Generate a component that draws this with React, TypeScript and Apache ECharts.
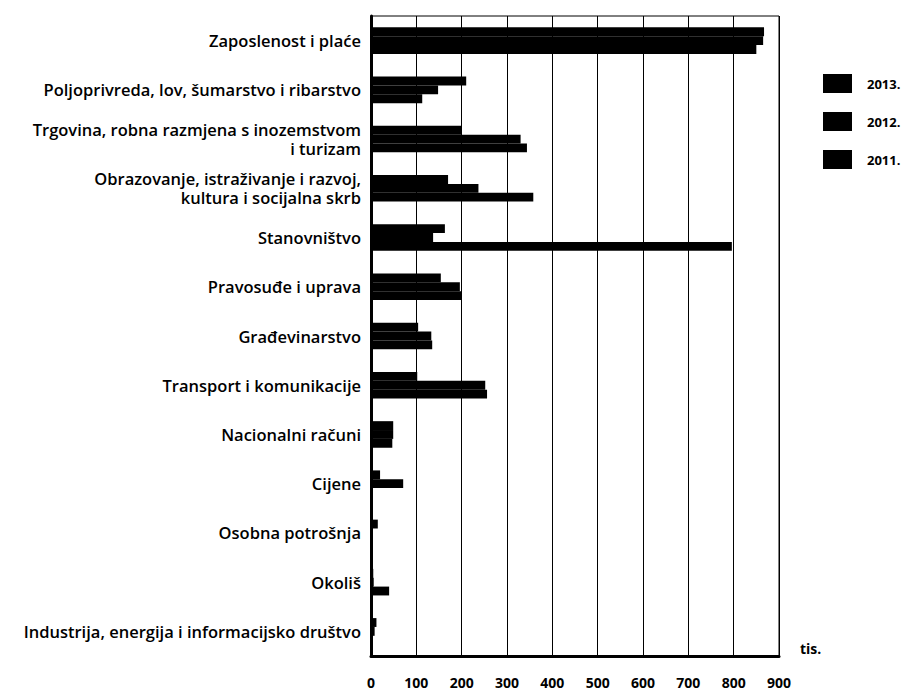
import React, { useEffect, useRef } from "react";
import * as echarts from "echarts";

const categories = [
  "Zaposlenost i plaće",
  "Poljoprivreda, lov, šumarstvo i ribarstvo",
  "Trgovina, robna razmjena s inozemstvom\ni turizam",
  "Obrazovanje, istraživanje i razvoj,\nkultura i socijalna skrb",
  "Stanovništvo",
  "Pravosuđe i uprava",
  "Građevinarstvo",
  "Transport i komunikacije",
  "Nacionalni računi",
  "Cijene",
  "Osobna potrošnja",
  "Okoliš",
  "Industrija, energija i informacijsko društvo",
];

const values2013 = [867, 210, 200, 170, 163, 154, 104, 102, 49, 20, 15, 5, 12];
const values2012 = [865, 148, 330, 237, 137, 196, 133, 252, 49, 71, 4, 6, 8];
const values2011 = [850, 113, 344, 358, 796, 199, 135, 256, 47, 0, 3, 40, 4];

const seriesNames = ["2013.", "2012.", "2011."];
const xTicks = [0, 100, 200, 300, 400, 500, 600, 700, 800, 900];
const unitLabel = "tis.";

export default function App() {
  const ref = useRef<HTMLDivElement>(null);
  useEffect(() => {
    if (!ref.current) return;
    const chart = echarts.init(ref.current, null, { renderer: "svg" });
    const font = "'Open Sans', sans-serif";
    const mk = (name: string, data: number[]) => ({
      name,
      type: "bar",
      data,
      barGap: "0%",
      barCategoryGap: "46%",
      itemStyle: { color: "#000" },
    });
    chart.setOption({
      animation: false,
      backgroundColor: "#fff",
      textStyle: { fontFamily: font },
      grid: {
        left: 371,
        right: 131,
        top: 16,
        bottom: 34,
        show: true,
        borderColor: "#000",
        borderWidth: 1,
      },
      legend: {
        orient: "vertical",
        left: 818,
        top: 69,
        itemWidth: 29,
        itemHeight: 19,
        itemGap: 19,
        icon: "rect",
        data: seriesNames,
        textStyle: {
          fontFamily: font,
          fontWeight: 700,
          fontSize: 13,
          color: "#000",
          padding: [0, 0, 0, 10],
        },
      },
      xAxis: {
        type: "value",
        min: xTicks[0],
        max: xTicks[xTicks.length - 1],
        interval: 100,
        axisLine: { show: true, lineStyle: { color: "#000", width: 3 } },
        axisTick: { show: false },
        splitLine: { show: true, lineStyle: { color: "#000", width: 1 } },
        axisLabel: {
          margin: 19,
          fontFamily: font,
          fontWeight: 700,
          fontSize: 14,
          color: "#000",
        },
      },
      yAxis: {
        type: "category",
        data: categories,
        inverse: true,
        axisLine: { show: true, lineStyle: { color: "#000", width: 3 } },
        axisTick: { show: false },
        axisLabel: {
          margin: 10,
          fontFamily: font,
          fontWeight: 600,
          fontSize: 16.5,
          lineHeight: 19,
          color: "#000",
          align: "right",
        },
      },
      graphic: [
        {
          type: "text",
          left: 800,
          top: 641,
          style: {
            text: unitLabel,
            fontFamily: font,
            fontWeight: 700,
            fontSize: 14,
            fill: "#000",
          },
        },
      ],
      series: [
        mk(seriesNames[0], values2013),
        mk(seriesNames[1], values2012),
        mk(seriesNames[2], values2011),
      ],
    });
    return () => chart.dispose();
  }, []);
  return (
    <div
      ref={ref}
      style={{ position: "fixed", left: 0, top: 0, width: 910, height: 690 }}
    />
  );
}
